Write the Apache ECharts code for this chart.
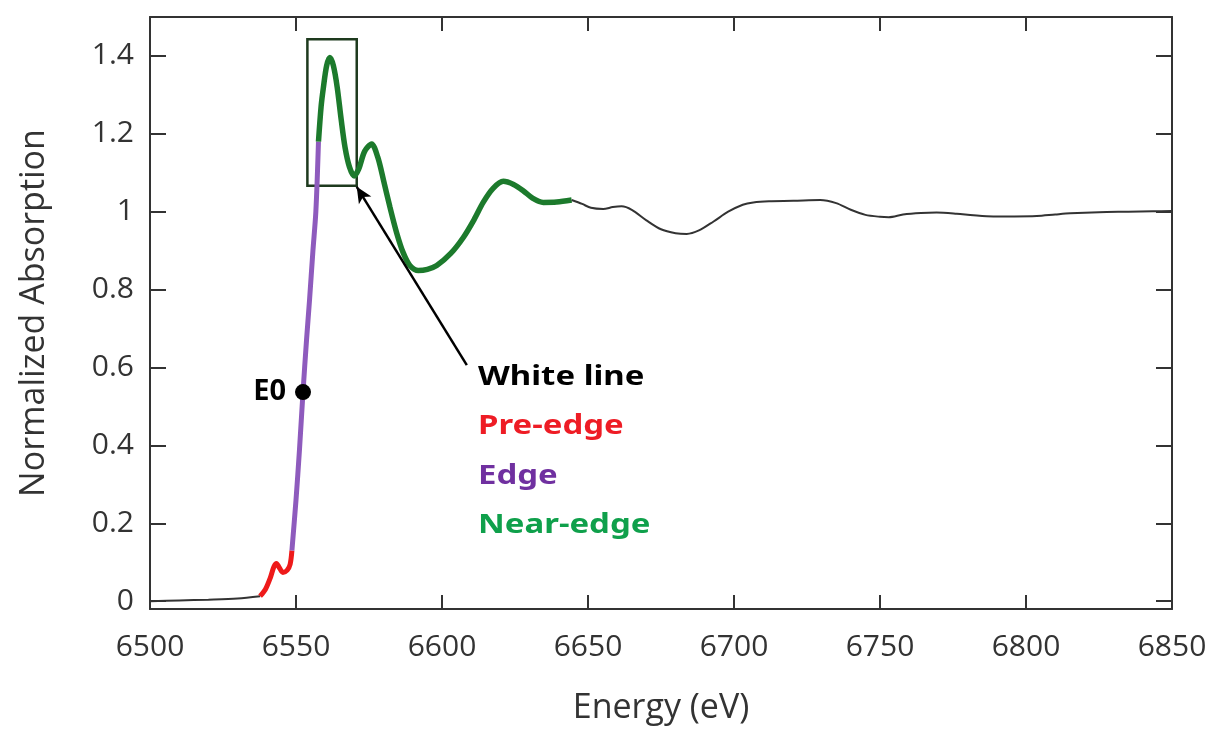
<!DOCTYPE html>
<html>
<head>
<meta charset="utf-8">
<title>Normalized Absorption</title>
<script src="https://cdn.jsdelivr.net/npm/echarts@6/dist/echarts.min.js"></script>
<style>
html,body{margin:0;padding:0;background:#fff;}
#container{width:1214px;height:729px;}
</style>
</head>
<body>
<div id="container"></div>
<script>
// y 轴刻度
var yTicks = [0, 0.2, 0.4, 0.6, 0.8, 1, 1.2, 1.4];

// 曲线各段数据 [能量 eV, 归一化吸收]
var preBlack = [[6500, 0.0], [6510, 0.002], [6520, 0.004], [6530, 0.007], [6537.7, 0.013]];
var preEdge = [[6537.7, 0.013], [6539.5, 0.03], [6541.2, 0.06], [6542.4, 0.088], [6543.3, 0.097],
    [6544.3, 0.086], [6545.5, 0.074], [6547, 0.08], [6548, 0.095], [6548.6, 0.13]];
var edge = [[6548.6, 0.13], [6550.0, 0.26], [6551.2, 0.39], [6552.4, 0.537], [6553.6, 0.67],
    [6554.6, 0.77], [6555.8, 0.9], [6556.8, 1.0], [6557.7, 1.18]];
var nearEdge = [[6557.7, 1.18], [6558.6, 1.27], [6559.4, 1.32], [6560.5, 1.375], [6561.6, 1.396],
    [6562.8, 1.375], [6564.1, 1.32], [6565.5, 1.235], [6566.8, 1.165], [6568.3, 1.115], [6569.9, 1.092],
    [6571.5, 1.11], [6573.5, 1.155], [6575.9, 1.174], [6578, 1.14], [6580, 1.08], [6582.2, 1.011],
    [6584.5, 0.945], [6586.7, 0.895], [6589, 0.862], [6591.9, 0.849], [6595, 0.852], [6598.2, 0.862],
    [6603, 0.893], [6607.3, 0.934], [6611, 0.98], [6614.1, 1.024], [6617.5, 1.06], [6621, 1.078],
    [6624.5, 1.07], [6627.8, 1.054], [6631, 1.035], [6634.7, 1.024], [6639.3, 1.025], [6644.4, 1.03]];
var postBlack = [[6644.4, 1.03], [6648, 1.02], [6651, 1.01], [6655.2, 1.007], [6658.5, 1.012],
    [6661.5, 1.014], [6665, 1.005], [6670, 0.978], [6675, 0.955], [6680, 0.945], [6683.8, 0.943],
    [6688, 0.952], [6693, 0.975], [6698, 1.0], [6703, 1.018], [6706.6, 1.024], [6712, 1.027],
    [6720.3, 1.028], [6729.5, 1.03], [6735, 1.022], [6740, 1.005], [6745, 0.992], [6750, 0.987],
    [6753, 0.986], [6757.9, 0.993], [6764, 0.997], [6769.4, 0.998], [6776.3, 0.995], [6782, 0.991],
    [6788.8, 0.988], [6796, 0.988], [6803.7, 0.989], [6810, 0.993], [6815.1, 0.996], [6825, 0.999],
    [6835, 1.0], [6843.5, 1.001], [6850, 1.002]];

// 标注
var e0Point = [6552.4, 0.537];
var whiteLineBox = [[6553.9, 1.443], [6570.8, 1.067]];
var arrowFrom = [6608.5, 0.606];
var arrowTo = [6570.8, 1.064];
var noteTexts = ['White line', 'Pre-edge', 'Edge', 'Near-edge'];
var noteColors = ['#000000', '#ee1c25', '#7030a0', '#0fa04b'];

var axisColor = '#333';
var font = 'Open Sans';

var myChart = echarts.init(document.getElementById('container'));

function frameX(pos, main) { // 上下 x 轴
    return {
        type: 'value', position: pos, min: 6500, max: 6850, interval: 50,
        axisLine: {show: true, onZero: false, lineStyle: {color: axisColor, width: 2}},
        axisTick: {show: true, inside: true, length: 14, lineStyle: {color: axisColor, width: 2}},
        axisLabel: {show: main, color: axisColor, fontSize: 30, fontFamily: font, margin: 23,
            formatter: function (v) { return String(v); }}, // 不要千位分隔符
        splitLine: {show: false},
        name: main ? 'Energy (eV)' : '',
        nameLocation: 'middle', nameGap: 82,
        nameTextStyle: {color: axisColor, fontSize: 34, fontFamily: font}
    };
}
function frameY(pos, main) { // 左右 y 轴
    return {
        type: 'value', position: pos, min: -0.02, max: 1.5,
        axisLine: {show: true, onZero: false, lineStyle: {color: axisColor, width: 2}},
        axisTick: {show: true, inside: true, length: 16, customValues: yTicks, lineStyle: {color: axisColor, width: 2}},
        axisLabel: {show: main, customValues: yTicks, color: axisColor, fontSize: 30, fontFamily: font, margin: 16},
        splitLine: {show: false},
        name: main ? 'Normalized Absorption' : '',
        nameLocation: 'middle', nameGap: 99,
        nameTextStyle: {color: axisColor, fontSize: 34, fontFamily: font}
    };
}

function seg(data, color, width) {
    return {type: 'line', data: data, showSymbol: false, smooth: 0.3, z: 3,
        lineStyle: {color: color, width: width}};
}

var green = seg(nearEdge, '#1c7a2c', 5.5);
green.markArea = { // White line 方框
    silent: true,
    itemStyle: {color: 'rgba(0,0,0,0)', borderColor: '#1e3a1e', borderWidth: 2.5},
    data: [[{coord: whiteLineBox[0]}, {coord: whiteLineBox[1]}]]
};
green.markLine = { // 箭头
    silent: true, symbol: ['none', 'arrow'], symbolSize: [11, 16],
    lineStyle: {color: '#000', width: 2.5, type: 'solid'},
    label: {show: false},
    data: [[{coord: arrowFrom}, {coord: arrowTo}]]
};

myChart.setOption({
    animation: false,
    grid: {left: 150, right: 42, top: 17, bottom: 120, outerBoundsMode: 'none'},
    xAxis: [frameX('bottom', true), frameX('top', false)],
    yAxis: [frameY('left', true), frameY('right', false)],
    series: [
        seg(preBlack, '#333', 2),
        seg(preEdge, '#ee1a1a', 5),
        seg(edge, '#8e5bbd', 5),
        green,
        seg(postBlack, '#333', 2),
        {
            type: 'scatter', data: [e0Point], symbolSize: 16, z: 6,
            itemStyle: {color: '#000', opacity: 1},
            label: {show: true, position: 'left', distance: 9, formatter: 'E0',
                fontSize: 29, fontWeight: 'bold', color: '#000', fontFamily: 'Noto Sans'}
        }
    ],
    graphic: noteTexts.map(function (t, i) {
        return {
            type: 'text', x: 478, y: 377 + i * 49.5, scaleX: 1.22,
            style: {text: t, fill: noteColors[i], font: 'bold 27px "Noto Sans"', verticalAlign: 'middle'}
        };
    })
});
</script>
</body>
</html>
